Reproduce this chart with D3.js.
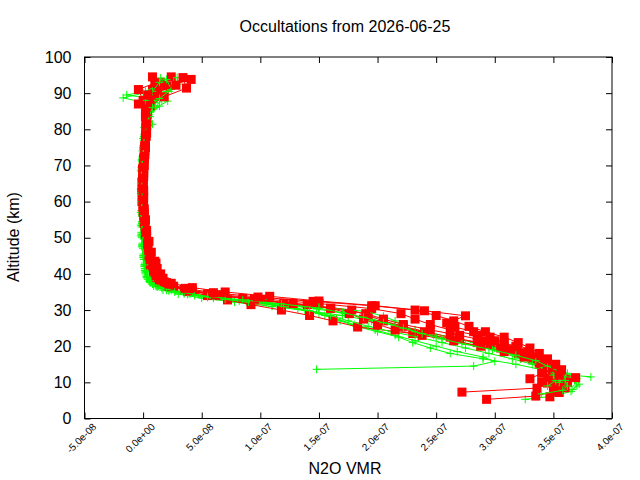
<!DOCTYPE html>
<html>
<head>
<meta charset="utf-8">
<script src="https://cdn.jsdelivr.net/npm/d3@7"></script>
<style>
  body { margin: 0; background: #fff; }
  svg  { font-family: "Liberation Sans", Arial, sans-serif; }
</style>
</head>
<body>
<svg id="chart" width="640" height="480"></svg>
<script>
'use strict';

// axis ticks
const xTicks      = [-50, 0, 50, 100, 150, 200, 250, 300, 350, 400];   // ppb
const xTickLabels = ['-5.0e-08', '0.0e+00', '5.0e-08', '1.0e-07', '1.5e-07',
                     '2.0e-07', '2.5e-07', '3.0e-07', '3.5e-07', '4.0e-07'];
const yTicks      = [0, 10, 20, 30, 40, 50, 60, 70, 80, 90, 100];

// profiles: [altitude km, N2O VMR in ppb]
const green1 = [[13.6,148],[14.5,282],[15.8,300],[17,290],[18.5,268],[20,250],[21.5,232],[23,215],[24.5,198],[26,180],[27.5,165],[29,150],[30.3,132],[31.5,110],[32.5,82],[33.5,55],[34.5,35],[35.5,20],[36.6,11],[37.8,6],[39,4],[40.5,3],[42.5,2],[45,1],[48,0],[51,-0.5],[54,-1],[57,-1.5],[60,-0.5],[63,-1],[66,-1.5],[69,-1],[72,-0.5],[75,0],[78,1],[81.4,8],[84,5],[86.4,14],[88.7,-17],[90,0],[92.5,12]];
const green2 = [[5.3,326],[6.2,350],[7.5,365],[9,370],[10.5,368],[12,362],[13.5,355],[15,345],[16.5,333],[18,318],[19.5,300],[21,282],[22.5,262],[24,240],[25.5,218],[27,195],[28.5,170],[29.8,140],[31,110],[32.2,78],[33.3,50],[34.4,30],[35.5,17],[36.7,9],[38,5],[39.3,3],[41,2],[43,1.5],[45.5,0.5],[48.5,-0.5],[51.5,-1.5],[54.5,-1],[57.5,-1.5],[60.5,-1],[63.5,-2],[66.5,-1],[69.5,-1.5],[72.5,-0.5],[75.5,0.5],[78.5,1],[81,2],[83.5,4],[85.6,9],[87.8,21],[89.5,-14],[90.5,2],[93,18]];
const green3 = [[8,366],[9.5,372],[11,370],[12.5,362],[14,352],[15.5,340],[17,325],[18.5,305],[20,285],[21.5,265],[23,248],[24.5,232],[26,215],[27.5,195],[29,172],[30.3,148],[31.5,118],[32.6,88],[33.6,60],[34.6,38],[35.6,22],[36.7,12],[37.9,6],[39.2,3.5],[40.8,2.5],[42.5,1.5],[45,0],[48,-1],[51,-1.5],[54,-0.5],[57,-1.5],[60,-1],[63,-0.5],[66,-1.5],[69,-1],[72,0],[75,0.5],[78,1.5],[81,3],[83.5,6],[86,10],[88,16],[90.5,20],[93,26]];
const green4 = [[11.5,382],[12.3,356],[13.5,340],[15,318],[16.5,290],[18,262],[19.5,245],[21,230],[22.5,218],[24,200],[25.5,182],[27,168],[28.5,155],[30,138],[31.3,115],[32.4,88],[33.5,60],[34.5,40],[35.5,24],[36.6,13],[37.8,7],[39.1,4],[40.6,3],[42.2,2],[44.5,1],[47.5,-0.5],[50.5,-2],[53.5,-1],[56.5,-0.5],[59.5,-1.5],[62.5,-0.5],[65.5,-1],[68.5,-2],[71.5,-1],[74.5,0],[77.5,0.5],[80.5,2],[83,4],[85.5,7],[88,12],[90.5,22],[94.2,15]];
const green5 = [[9,345],[10.5,352],[12,350],[13.5,345],[15,335],[16.5,322],[18,308],[19.5,292],[21,272],[22.5,250],[24,232],[25.5,222],[27,215],[28.3,205],[29.6,190],[30.8,150],[32,105],[33,70],[34,44],[35,27],[36,16],[37.2,8],[38.5,4],[40,2],[41.5,1.5],[44,0.5],[47,0],[50,-1],[53,-1.5],[56,-1],[59,-0.5],[62,-1],[65,-1.5],[68,-0.5],[71,-1],[74,-0.5],[77,0.5],[80,1.5],[82.5,3],[85,6],[87.5,10],[90,17],[92.5,30],[94.3,29]];
const green6 = [[6.8,340],[7.8,358],[9,362],[10.5,360],[12,354],[13.5,345],[15,332],[16.5,315],[18,295],[19.5,275],[21,255],[22.5,235],[24,212],[25.5,192],[27,175],[28.5,160],[29.8,142],[31,120],[32.2,90],[33.3,60],[34.3,38],[35.3,22],[36.4,12],[37.6,6],[38.9,3],[40.5,1.5],[42,1],[44.5,0],[47.5,-1],[50.5,-1],[53.5,-2],[56.5,-1],[59.5,-0.5],[62.5,-1.5],[65.5,-0.5],[68.5,-1],[71.5,-1.5],[74.5,0],[77.5,0],[80.5,1],[83,3],[85.5,5],[88,2],[90.5,8],[93,14]];
const green7 = [[10,355],[11.5,360],[13,355],[14.5,345],[16,335],[17.5,318],[19,298],[20.5,275],[22,255],[23.5,238],[25,222],[26.5,205],[28,188],[29.3,170],[30.5,150],[31.7,118],[32.8,85],[33.8,55],[34.8,35],[35.8,20],[36.9,11],[38.1,6],[39.4,3],[41,1.5],[42.5,1],[45,0.5],[48,-0.5],[51,0],[54,-1],[57,-2],[60,-1],[63,-0.5],[66,-1],[69,-1.5],[72,-0.5],[75,0.5],[78,1],[81,2.5],[83.5,5],[86,8],[88.5,14],[91,24],[93.8,20]];

const red1 = [[9,352],[10.5,350],[12,346],[13.5,342],[15,338],[16.5,332],[18,325],[19.5,318],[21,308],[22.5,296],[24,282],[25.3,266],[26.4,259],[28.4,275],[29.8,240],[31.2,198],[32.5,150],[33.8,108],[35,70],[36.2,42],[37.4,24],[38.6,16],[40,12],[41.8,9],[44,6],[47,4],[50,2.5],[53,1.5],[56,0.5],[59,0],[62,-0.5],[65,0],[68,0.5],[71,0.5],[74,1.5],[77,2],[80,2.5],[83,3],[86,3],[88.5,6],[91,8],[93,15]];
const red2 = [[7.3,272],[8.4,336],[9.8,345],[11.2,350],[12.6,352],[14,348],[15.5,343],[17,336],[18.5,328],[20,318],[21.5,300],[23,285],[24.5,262],[26,245],[27.5,232],[29,220],[30.4,195],[31.8,150],[33,105],[34.2,68],[35.4,42],[36.6,26],[37.8,18],[39,14],[40.5,11],[42.5,7],[45,5],[48,3],[51,2],[54,1],[57,0],[60,-1],[63,-0.5],[66,0],[69,0],[72,1],[75,2],[78,2.5],[81,3],[84,3],[86.5,4],[89,9],[91.5,12],[94.5,24]];
const red3 = [[5.3,293],[6.2,335],[7.5,350],[9,358],[10.5,360],[12,356],[13.5,350],[15,344],[16.5,334],[18,320],[19.5,305],[21,285],[22.5,262],[24,240],[25.5,222],[27,205],[28.5,192],[30,178],[31.5,140],[32.8,100],[34,65],[35.2,40],[36.4,24],[37.6,16],[38.8,13],[40.2,10],[42,8],[44.5,6],[47.5,4],[50.5,3],[53.5,1.5],[56.5,1],[59.5,0],[62.5,-1],[65.5,-1],[68.5,0],[71.5,0.5],[74.5,1],[77.5,2],[80.5,2.5],[83.5,2],[86,3],[88.5,5],[91,12],[93.8,41]];
const red4 = [[10,340],[11.5,345],[13,349],[14.5,346],[16,340],[17.5,330],[19,315],[20.5,295],[22,270],[23.5,230],[25.3,183],[27,162],[28.5,142],[30,118],[31.5,92],[32.8,72],[34,55],[35.2,38],[36.4,26],[37.6,20],[38.8,17],[40,15],[41.5,12],[43.5,10],[46,7],[49,5],[52,3],[55,2],[58,1],[61,0.5],[64,0],[67,0.5],[70,1],[73,1.5],[76,2],[79,3],[82,3],[85,3],[88,0],[91,-4],[92.8,10]];
const red5 = [[6,347],[7.2,355],[8.5,360],[10,362],[11.3,369],[12.5,356],[14,350],[15.5,342],[17,333],[18.5,320],[20,308],[21.5,292],[23,270],[24.5,245],[26,222],[27.5,205],[29,190],[30.5,160],[31.9,120],[33.2,85],[34.5,55],[35.8,35],[37,22],[38.2,15],[39.4,12],[40.8,9],[42.8,7],[45.3,5],[48.3,3.5],[51.3,2],[54.3,1],[57.3,0],[60.3,-0.5],[63.3,-1],[66.3,-0.5],[69.3,0.5],[72.3,1],[75.3,1.5],[78.3,2.5],[81.3,3],[84.3,3.5],[87,5],[89.5,12],[92,20],[94.5,8]];
const red6 = [[11,330],[12.5,340],[14,345],[15.5,338],[17,325],[18.5,308],[20,288],[21.5,265],[23,238],[24.5,215],[26,200],[27.5,188],[29,176],[30.5,160],[31.8,128],[33,95],[34.2,62],[35.4,38],[36.6,22],[37.8,14],[39,11],[40.5,9],[42.5,6],[45,4],[48,3],[51,2],[54,1],[57,0.5],[60,0],[63,0.5],[66,0],[69,-0.5],[72,0.5],[75,1.5],[78,2],[81,2.5],[84,3],[86.5,6],[89,18],[91.4,37],[94.3,34]];
const red7 = [[12,355],[13.5,357],[15,352],[16.5,345],[18,338],[19.5,330],[21,320],[22.5,308],[24,292],[25.5,278],[27,265],[28.5,250],[30,232],[31.2,195],[32.4,145],[33.6,98],[34.8,60],[36,36],[37.2,22],[38.4,14],[39.6,12],[41,10],[43,11],[45.5,6],[48.5,4],[51.5,2.5],[54.5,1.5],[57.5,0.5],[60.5,0],[63.5,0],[66.5,-0.5],[69.5,0],[72.5,1],[75.5,1.5],[78.5,2],[81.5,2.5],[84.5,2],[87,-4],[89.5,4],[92.2,28]];

const greenProfiles = [green1, green2, green3, green4, green5, green6, green7];
const redProfiles   = [red1, red2, red3, red4, red5, red6, red7];

// plot box
const box = { left: 84.5, right: 612, top: 57, bottom: 418.5 };

const x = d3.scaleLinear().domain([-50, 400]).range([box.left, box.right]);
const y = d3.scaleLinear().domain([0, 100]).range([box.bottom, box.top]);

const svg = d3.select('#chart');

svg.append('rect')
    .attr('width', 640).attr('height', 480)
    .style('fill', '#fff');

svg.append('clipPath')
    .attr('id', 'plotclip')
  .append('rect')
    .attr('x', box.left).attr('y', box.top)
    .attr('width', box.right - box.left)
    .attr('height', box.bottom - box.top);

const plot = svg.append('g').attr('clip-path', 'url(#plotclip)');

const line = d3.line()
    .x( (d) => x(d[1]) )
    .y( (d) => y(d[0]) );

function drawGreen(p) {
  const g = plot.append('g');
  g.append('path')
      .attr('d', line(p))
      .style('fill', 'none')
      .style('stroke', '#00ff00')
      .style('stroke-width', 1);
  g.selectAll('path.pt')
      .data(p)
    .enter().append('path')
      .attr('class', 'pt')
      .attr('d', (d) => `M${x(d[1]) - 4},${y(d[0])}h8M${x(d[1])},${y(d[0]) - 4}v8`)
      .style('stroke', '#00ff00')
      .style('stroke-width', 1);
}

function drawRed(p) {
  const g = plot.append('g');
  g.append('path')
      .attr('d', line(p))
      .style('fill', 'none')
      .style('stroke', '#ff0000')
      .style('stroke-width', 1);
  g.selectAll('rect')
      .data(p)
    .enter().append('rect')
      .attr('x', (d) => x(d[1]) - 4.5)
      .attr('y', (d) => y(d[0]) - 4.5)
      .attr('width', 9)
      .attr('height', 9)
      .style('fill', '#ff0000');
}

greenProfiles.forEach( (p, i) => {
  drawGreen(p);
  drawRed(redProfiles[i]);
});

// axes (inward ticks, mirrored)
const tickLen = 6;

const xAxis = svg.append('g')
    .attr('transform', `translate(0,${box.bottom})`)
    .call( d3.axisBottom(x).tickValues(xTicks).tickSize(-tickLen)
             .tickFormat( (d, i) => xTickLabels[i] ) );
xAxis.selectAll('text')
    .attr('y', 0).attr('dy', 0)
    .attr('text-anchor', 'end')
    .attr('transform', 'translate(12,9) rotate(-45)')
    .style('font-size', '10px')
    .style('fill', '#000');

svg.append('g')
    .attr('transform', `translate(0,${box.top})`)
    .call( d3.axisTop(x).tickValues(xTicks).tickSize(-tickLen).tickFormat('') );

const yAxis = svg.append('g')
    .attr('transform', `translate(${box.left},0)`)
    .call( d3.axisLeft(y).tickValues(yTicks).tickSize(-tickLen).tickPadding(13) );
yAxis.selectAll('text')
    .style('font-size', '16px')
    .style('fill', '#000');

svg.append('g')
    .attr('transform', `translate(${box.right},0)`)
    .call( d3.axisRight(y).tickValues(yTicks).tickSize(-tickLen).tickFormat('') );

svg.selectAll('.domain').remove();
svg.selectAll('.tick line').style('stroke', '#000');

svg.append('rect')
    .attr('x', box.left).attr('y', box.top)
    .attr('width', box.right - box.left)
    .attr('height', box.bottom - box.top)
    .style('fill', 'none')
    .style('stroke', '#000')
    .style('stroke-width', 1);

// labels
svg.append('text')
    .attr('x', 345).attr('y', 32)
    .attr('text-anchor', 'middle')
    .style('font-size', '16px')
    .text('Occultations from 2026-06-25');

svg.append('text')
    .attr('x', 345).attr('y', 474)
    .attr('text-anchor', 'middle')
    .style('font-size', '16px')
    .text('N2O VMR');

svg.append('text')
    .attr('transform', 'translate(19,237) rotate(-90)')
    .attr('text-anchor', 'middle')
    .style('font-size', '16px')
    .text('Altitude (km)');
</script>
</body>
</html>
